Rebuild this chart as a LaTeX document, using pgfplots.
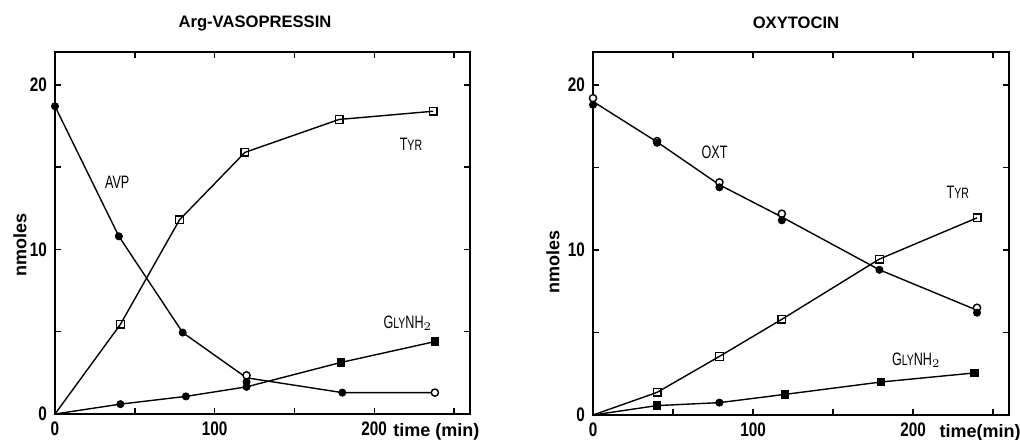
\documentclass[border=0pt]{standalone}
\usepackage{fontspec}
\setmainfont{Liberation Sans}
\newfontfamily\condfont{Liberation Sans}[FakeStretch=0.78]
\newfontfamily\labfont{Liberation Sans}[FakeStretch=0.7]
\usepackage{pgfplots}
\pgfplotsset{compat=1.18}

\pgfplotsset{
  panel/.style={
    anchor=south west,
    scale only axis,
    xmin=0, xmax=260, ymin=0, ymax=22,
    axis line style={line width=0.8pt},
    xtick={0,50,...,250},
    xticklabels={0,,100,,200,},
    ytick={0,5,...,20},
    yticklabels={0,,10,,20},
    tick align=inside,
    major tick length=3pt,
    tick style={line width=0.7pt, black},
    ticklabel style={font=\condfont\bfseries\fontsize{9.8}{10}\selectfont},
    /pgf/number format/assume math mode=true,
    xticklabel style={yshift=-0.5pt},
    yticklabel style={xshift=-0.5pt},
    ylabel={nmoles},
    clip=false,
  },
  dline/.style={black, line width=0.7pt, no markers},
  fc/.style={black, only marks, mark=*, mark size=1.8pt},
  oc/.style={black, only marks, mark=*, mark size=1.8pt, mark options={fill=white, line width=0.7pt}},
  os/.style={black, only marks, mark=square, mark size=1.9pt, mark options={line width=0.7pt}},
  fs/.style={black, only marks, mark=square*, mark size=1.9pt},
}

\begin{document}
\begin{tikzpicture}[x=1pt,y=1pt]
\path[use as bounding box] (0,0) rectangle (510,219.5);

% Arg-vasopressin
\begin{axis}[panel, at={(27.5pt,12.5pt)}, width=207.5pt, height=181pt,
  every axis y label/.style={at={(rel axis cs:0,0.5)}, xshift=-17.5pt, yshift=-6pt,
    rotate=90, anchor=center, font=\bfseries\fontsize{9}{10}\selectfont}]
  \addplot[dline] coordinates {(0,18.7)(40,10.8)(80,4.95)(120,2.2)(180,1.3)(238,1.3)};
  \addplot[fc] coordinates {(0,18.7)(40,10.8)(80,4.95)(120,1.95)(180,1.3)};
  \addplot[oc] coordinates {(120,2.35)(238,1.3)};
  \addplot[dline] coordinates {(0,0)(41,5.45)(78,11.8)(119,15.9)(178,17.9)(237,18.4)};
  \addplot[os] coordinates {(41,5.45)(78,11.8)(119,15.9)(178,17.9)(237,18.4)};
  \addplot[dline] coordinates {(0,0)(41,0.6)(82,1.07)(120,1.65)(179,3.13)(238,4.4)};
  \addplot[fc] coordinates {(41,0.6)(82,1.07)(120,1.65)};
  \addplot[fs] coordinates {(179,3.13)(238,4.4)};
  \node[font=\labfont\fontsize{9}{10}\selectfont] at (axis cs:39,14.1) {AVP};
  \node[font=\labfont\fontsize{9}{10}\selectfont] at (axis cs:223,16.4) {T{\fontsize{7.5}{8}\selectfont YR}};
  \node[font=\labfont\fontsize{9}{10}\selectfont] at (axis cs:221,5.5) {G{\fontsize{7.5}{8}\selectfont LY}NH$_2$};
  \node[font=\bfseries\fontsize{8.3}{9}\selectfont] at (rel axis cs:0.5,1) [xshift=-3.75pt, yshift=14.5pt] {Arg-VASOPRESSIN};
  \node[font=\bfseries\fontsize{9}{10}\selectfont] at (axis cs:239,0) [yshift=-9pt] {time (min)};
\end{axis}

% Oxytocin
\begin{axis}[panel, at={(296.5pt,12pt)}, width=208pt, height=181.5pt,
  every axis y label/.style={at={(rel axis cs:0,0.5)}, xshift=-20pt, yshift=-14pt,
    rotate=90, anchor=center, font=\bfseries\fontsize{9}{10}\selectfont}]
  \addplot[dline] coordinates {(0,19.0)(40,16.55)(79,13.95)(118,12.0)(179,8.8)(240,6.35)};
  \addplot[oc] coordinates {(0,19.2)(40,16.6)(79,14.1)(118,12.2)(240,6.5)};
  \addplot[fc] coordinates {(0,18.8)(40,16.5)(79,13.8)(118,11.8)(179,8.8)(240,6.2)};
  \addplot[dline] coordinates {(0,0)(40,1.37)(79,3.55)(118,5.8)(179,9.45)(240,11.95)};
  \addplot[os] coordinates {(40,1.37)(79,3.55)(118,5.8)(179,9.45)(240,11.95)};
  \addplot[dline] coordinates {(0,0)(40,0.57)(79,0.75)(120,1.25)(180,2.0)(238.5,2.55)};
  \addplot[fs] coordinates {(40,0.57)(120,1.25)(180,2.0)(238.5,2.55)};
  \addplot[fc] coordinates {(79,0.75)};
  \node[font=\labfont\fontsize{9}{10}\selectfont] at (axis cs:76,15.9) {OXT};
  \node[font=\labfont\fontsize{9}{10}\selectfont] at (axis cs:228,13.5) {T{\fontsize{7.5}{8}\selectfont YR}};
  \node[font=\labfont\fontsize{9}{10}\selectfont] at (axis cs:202,3.3) {G{\fontsize{7.5}{8}\selectfont LY}NH$_2$};
  \node[font=\bfseries\fontsize{8.3}{9}\selectfont] at (rel axis cs:0.5,1) [xshift=-2.5pt, yshift=14.5pt] {OXYTOCIN};
  \node[font=\bfseries\fontsize{9}{10}\selectfont] at (axis cs:242,0) [yshift=-9pt] {time(min)};
\end{axis}
\end{tikzpicture}
\end{document}
